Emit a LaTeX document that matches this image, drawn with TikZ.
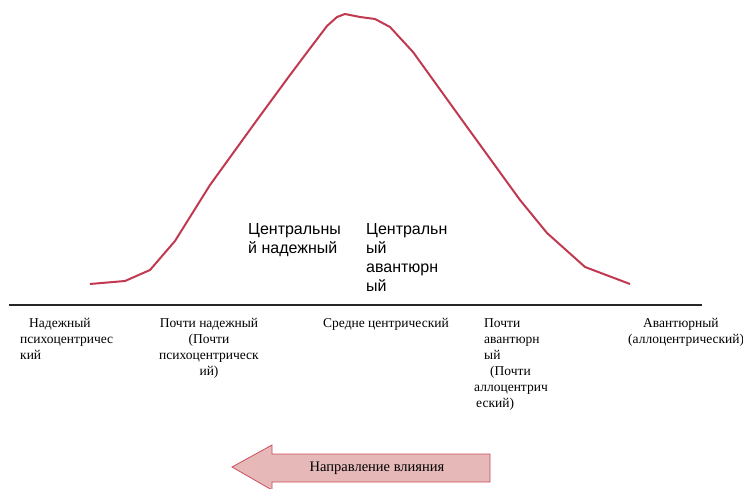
\documentclass[tikz,border=0pt]{standalone}
\usepackage{fontspec}
\setmainfont{Liberation Serif}
\newfontfamily\arialfont{Liberation Sans}
\definecolor{curvered}{RGB}{192,57,80}
\definecolor{arrowfill}{RGB}{230,185,184}
\definecolor{arrowline}{RGB}{200,80,90}
\tikzset{
  curve/.style={draw=curvered, line width=2pt, line join=round},
  lbl/.style={font=\fontsize{13.5}{16}\selectfont, inner sep=0pt, align=left, anchor=north west},
  sanslbl/.style={font=\arialfont\fontsize{16}{19}\selectfont, inner sep=0pt, align=left, anchor=north west},
}

\begin{document}
\begin{tikzpicture}[x=1pt,y=-1pt]
				\useasboundingbox (0,0) rectangle (743,489);
				
				% axis
				\coordinate (axisL) at (9,305);
				\coordinate (axisR) at (702,305);
				\draw[line width=1.4pt, black!85] (axisL) -- (axisR);
				
				% bell curve
				\draw[curve] plot coordinates {(90,284) (125,281) (150,270) (175,241) (210,185) (257,120) (290,75) (305,55) (327,26) (337,17) (345,14) (360,17) (375,19) (390,27) (413,52) (462,120) (520,200) (547,233) (585,267) (630,284)};
				
				% labels under the axis
				\node[lbl] (psycho) at (20,318) {\hspace{9pt}Надежный\\психоцентричес\\кий};
				\node[lbl, anchor=north, align=center] (almostpsycho) at (209,318) {Почти надежный\\(Почти\\психоцентрическ\\ий)};
				\node[lbl, anchor=north] (middle) at (386,318) {Средне центрический};
				\node[lbl] (almostallo) at (474,318) {\hspace{10pt}Почти\\\hspace{10pt}авантюрн\\\hspace{10pt}ый\\\hspace{16pt}(Почти\\аллоцентрич\\\hspace{2pt}еский)};
				\node[lbl] (allo) at (628,318) {\hspace{15pt}Авантюрный\\(аллоцентрический)};
				
				% labels under the peak
				\node[sanslbl] (centralsafe) at (248,223) {Центральны\\й надежный};
				\node[sanslbl] (centraladv) at (366,223) {Центральн\\ый\\авантюрн\\ый};
				
				% direction arrow
				\draw[fill=arrowfill, draw=arrowline, line width=0.8pt] (232,467) -- (272,445) -- (272,454) -- (490,454) -- (490,482) -- (272,482) -- (272,490) -- cycle;
				\node[font=\fontsize{14.5}{17}\selectfont, inner sep=0pt] (influence) at (377,468) {Направление влияния};
\end{tikzpicture}
\end{document}
